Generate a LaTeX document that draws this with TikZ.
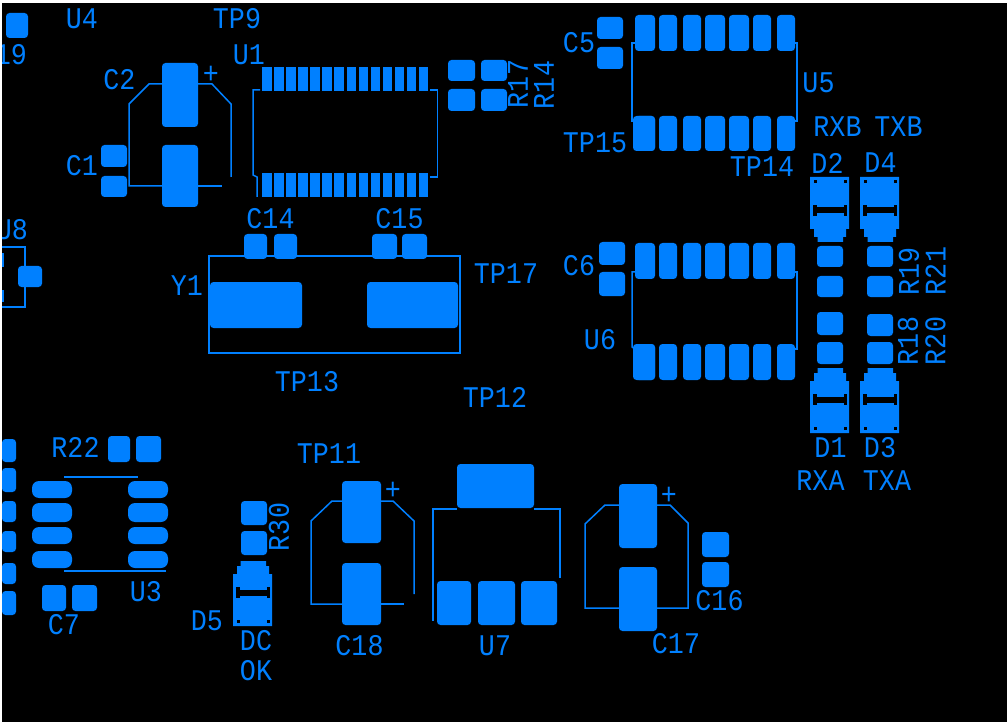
\documentclass[tikz,border=0pt]{standalone}
\usepackage{fontspec}
\newfontfamily\pcbfont[FakeStretch=0.89]{Liberation Mono}
\definecolor{pcbblue}{RGB}{0,128,255}
\tikzset{
	pad/.style 2 args={rectangle, rounded corners=3.5pt, fill=pcbblue, inner sep=0pt, outer sep=0pt, minimum width=#1pt, minimum height=#2pt},
	pin/.style 2 args={rectangle, fill=pcbblue, inner sep=0pt, outer sep=0pt, minimum width=#1pt, minimum height=#2pt},
	sopad/.style={pad={40}{#1}, rounded corners=7pt},
	silk/.style={draw=pcbblue, line width=1.5pt},
	lbl/.style={text=pcbblue, inner sep=0pt, font=\pcbfont\fontsize{30}{30}\selectfont},
}
\begin{document}
\begin{tikzpicture}[x=1pt,y=-1pt]
	\useasboundingbox (0,0) rectangle (1007,722);
	\fill [black] (0,0) rectangle (1007,722);
	% outlines
	\draw [silk] (163,84) -- (149,84) -- (129,104) -- (129,186) -- (163,186);
	\draw [silk] (198,84) -- (212,84) -- (231,104) -- (231,177);
	\draw [silk] (198,186) -- (222,186);
	\draw [silk] (260,90) -- (253,90) -- (253,175) -- (257,177) -- (257,197);
	\draw [silk] (430,90) -- (437.5,90) -- (437.5,177) -- (430,177);
	\draw [silk] (2,247) -- (25,247) -- (25,307) -- (2,307);
	\draw [silk] (209,256) rectangle (460,353);
	\draw [silk] (635,43) -- (632,43) -- (632,121) -- (635,121);
	\draw [silk] (795,43) -- (797,43) -- (797,121) -- (795,121);
	\draw [silk] (635,272) -- (632,272) -- (632,347) -- (635,349);
	\draw [silk] (795,272) -- (797,272) -- (797,349) -- (795,349);
	\draw [silk] (64,477) -- (138,477);
	\draw [silk] (64,571) -- (166,571);
	\draw [silk] (342,501) -- (332,501) -- (311,521) -- (311,604) -- (342,604);
	\draw [silk] (381,501) -- (393,501) -- (414,521) -- (414,594);
	\draw [silk] (381,604) -- (404,604);
	\draw [silk] (457,509) -- (433,509) -- (433,621);
	\draw [silk] (534,509) -- (560,509) -- (560,578);
	\draw [silk] (619,505) -- (605,505) -- (585,524) -- (585,608) -- (619,608);
	\draw [silk] (657,505) -- (670,505) -- (688,523) -- (688,608) -- (657,608);
	% U1
	\foreach \i in {0,...,13} {
		\node [pin={9.5}{24}] (U1t\i) at (267+12.04*\i,79) {};
		\node [pin={9.5}{24}] (U1b\i) at (267+12.04*\i,185) {};
	}
	% U5 and U6
	\foreach \x/\w in {645/20,668/18,692/18,715/20,739/20,762/18,786/18} {
		\node [pad={\w}{36}] (U5t\x) at (\x,33) {};
		\node [pad={\w}{35}] (U5b\x) at (\x,133.5) {};
		\node [pad={\w}{36}] (U6t\x) at (\x,261) {};
		\node [pad={\w}{36}] (U6b\x) at (\x,362) {};
	}
	\node [pad={22}{35}] (U5p1) at (644,133.5) {};
	\node [pad={22}{36}] (U6p1) at (644,362) {};
	% U3
	\foreach \y/\h in {489.5/17,512.5/19,535.5/17,559.5/17} {
		\node [sopad=\h] (U3l\y) at (52,\y) {};
		\node [sopad=\h] (U3r\y) at (148,\y) {};
	}
	% edge of the board
	\foreach \y/\h in {450.5/23,480/24,511.5/21,541.5/21,573.5/21,603/24}
		\node [pad={14}{\h}] (J\y) at (9,\y) {};
	\node [pin={2}{14}] (U8l1) at (3,260) {};
	\node [pin={2}{12}] (U8l2) at (3,296) {};
	% pads
	\node [pad={22}{25}] (C19a) at (17,25.5) {};
	\node [pad={36}{64}] (C2a) at (180,95) {};
	\node [pad={36}{62}] (C2b) at (180,176) {};
	\node [pad={26}{22}] (C1a) at (114,156) {};
	\node [pad={26}{21}] (C1b) at (114,186.5) {};
	\node [pad={27}{21}] (R17a) at (461.5,70.5) {};
	\node [pad={27}{22}] (R17b) at (461.5,100) {};
	\node [pad={26}{21}] (R14a) at (494,70.5) {};
	\node [pad={26}{22}] (R14b) at (494,100) {};
	\node [pad={23}{25}] (C14a) at (255.5,246.5) {};
	\node [pad={23}{25}] (C14b) at (285.5,246.5) {};
	\node [pad={25}{25}] (C15a) at (384.5,246.5) {};
	\node [pad={25}{25}] (C15b) at (414.5,246.5) {};
	\node [pad={92}{46}] (Y1a) at (256,305) {};
	\node [pad={91}{46}] (Y1b) at (412.5,305) {};
	\node [pad={24}{21}] (U8a) at (30,276.5) {};
	\node [pad={26}{22}] (C5a) at (610,28) {};
	\node [pad={26}{22}] (C5b) at (610,58) {};
	\node [pad={26}{23}] (C6a) at (612,253.5) {};
	\node [pad={26}{24}] (C6b) at (612,284) {};
	\node [pad={26}{21}] (R19a) at (830,256.5) {};
	\node [pad={26}{21}] (R19b) at (830,286.5) {};
	\node [pad={26}{23}] (R18a) at (830,323.5) {};
	\node [pad={26}{22}] (R18b) at (830,353) {};
	\node [pad={26}{21}] (R21a) at (880,256.5) {};
	\node [pad={26}{21}] (R21b) at (880,286.5) {};
	\node [pad={26}{22}] (R20a) at (880,325) {};
	\node [pad={26}{22}] (R20b) at (880,353) {};
	\node [pad={77}{44}] (U7a) at (495.5,486) {};
	\node [pad={34}{44}] (U7b) at (454,603) {};
	\node [pad={37}{44}] (U7c) at (496.5,603) {};
	\node [pad={36}{44}] (U7d) at (539,603) {};
	\node [pad={38}{64}] (C17a) at (638,516) {};
	\node [pad={38}{64}] (C17b) at (638,599) {};
	\node [pad={27}{25}] (C16a) at (715.5,544.5) {};
	\node [pad={27}{25}] (C16b) at (715.5,574.5) {};
	\node [pad={39}{62}] (C18a) at (361.5,512) {};
	\node [pad={39}{62}] (C18b) at (361.5,594) {};
	\node [pad={22}{26}] (R22a) at (119,449) {};
	\node [pad={25}{26}] (R22b) at (148.5,449) {};
	\node [pad={24}{26}] (C7a) at (54,598) {};
	\node [pad={25}{26}] (C7b) at (84.5,598) {};
	\node [pad={26}{24}] (R30a) at (254,513) {};
	\node [pad={26}{24}] (R30b) at (254,543) {};
	% diodes
	\foreach \px/\py/\flip in {811/178/1,861/178/1,811/432/-1,861/432/-1,234/625/-1} {
		\begin{scope}[shift={(\px,\py)},yscale=\flip]
			\fill [pcbblue] (-1,-1) -- (38,-1) -- (38,51) -- (35,51) -- (35,59) -- (32,59) -- (32,64) -- (6.5,64) -- (6.5,59) -- (3,59) -- (3,51) -- (-1,51) -- cycle;
			\fill [black] (2,27) rectangle (5.5,38);
			\fill [black] (32.5,27) rectangle (36,38);
			\fill [black] (2,29.5) rectangle (36,35.5);
			\fill [black] (2.5,2.5) rectangle (5.5,5.5);
			\fill [black] (33,2.5) rectangle (35.5,5.5);
		\end{scope}
	}
	% labels
	\node [lbl] (tU4) at (82,19) {U4};
	\node [lbl] (tTP9) at (237,19) {TP9};
	\node [lbl] (tC19) at (11,55) {19};
	\node [lbl] (tU1) at (249,55) {U1};
	\node [lbl] (tC2) at (119.5,80) {C2};
	\node [lbl] (tC2p) at (211,75) {+};
	\node [lbl] (tC1) at (82,166) {C1};
	\node [lbl] (tU8) at (12,230) {U8};
	\node [lbl] (tC14) at (270.5,219) {C14};
	\node [lbl] (tC15) at (399.5,219) {C15};
	\node [lbl] (tY1) at (187,286) {Y1};
	\node [lbl] (tTP17) at (506,274) {TP17};
	\node [lbl, rotate=90] (tR17) at (518,84) {R17};
	\node [lbl, rotate=90] (tR14) at (544,85) {R14};
	\node [lbl] (tC5) at (579,43) {C5};
	\node [lbl] (tU5) at (818.5,82.5) {U5};
	\node [lbl] (tRXB) at (837.5,127) {RXB};
	\node [lbl] (tTXB) at (898.5,127) {TXB};
	\node [lbl] (tTP15) at (595,143) {TP15};
	\node [lbl] (tTP14) at (762,167) {TP14};
	\node [lbl] (tD2) at (827.5,163) {D2};
	\node [lbl] (tD4) at (880.5,163) {D4};
	\node [lbl] (tC6) at (579,266) {C6};
	\node [lbl] (tU6) at (600,340) {U6};
	\node [lbl, rotate=90] (tR19) at (909,271.5) {R19};
	\node [lbl, rotate=90] (tR21) at (935.5,271) {R21};
	\node [lbl, rotate=90] (tR18) at (908,341) {R18};
	\node [lbl, rotate=90] (tR20) at (935.5,341) {R20};
	\node [lbl] (tD1) at (830.5,448) {D1};
	\node [lbl] (tD3) at (880,448) {D3};
	\node [lbl] (tRXA) at (820.5,481) {RXA};
	\node [lbl] (tTXA) at (887,481) {TXA};
	\node [lbl] (tTP13) at (307,382) {TP13};
	\node [lbl] (tTP12) at (495,397) {TP12};
	\node [lbl] (tTP11) at (329,454) {TP11};
	\node [lbl] (tR22) at (75.5,447) {R22};
	\node [lbl] (tU3) at (146,592) {U3};
	\node [lbl] (tC7) at (64,625) {C7};
	\node [lbl, rotate=90] (tR30) at (279,527) {R30};
	\node [lbl] (tD5) at (207,621) {D5};
	\node [lbl] (tDC) at (256,641) {DC};
	\node [lbl] (tOK) at (256,671) {OK};
	\node [lbl] (tC18p) at (393,491) {+};
	\node [lbl] (tC18) at (359.5,646) {C18};
	\node [lbl] (tU7) at (495,646) {U7};
	\node [lbl] (tC17p) at (669,496) {+};
	\node [lbl] (tC16) at (719.5,601) {C16};
	\node [lbl] (tC17) at (676,644) {C17};
	% white margin of the screenshot
	\fill [white] (0,0) rectangle (2,722);
	\fill [white] (0,0) rectangle (1007,3);
\end{tikzpicture}
\end{document}
